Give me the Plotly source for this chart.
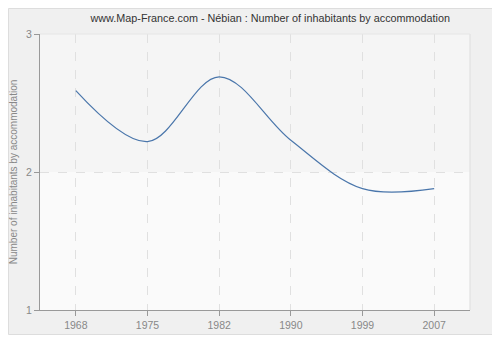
import plotly.graph_objects as go

years = ["1968", "1975", "1982", "1990", "1999", "2007"]
values = [2.59, 2.22, 2.69, 2.23, 1.88, 1.88]
y_ticks = [1, 2, 3]

title_text = "www.Map-France.com - Nébian : Number of inhabitants by accommodation"
y_title = "Number of inhabitants by accommodation"

# The page body adds an 8px margin, so the figure is sized to fit the window.
W, H = 492, 332
ML, MR, MT, MB = 32, 30, 26, 30
PW, PH = W - ML - MR, H - MT - MB


def px_x(fx):
    return (fx - ML) / PW


def px_y(fy):
    return (H - MB - fy) / PH


fig = go.Figure()
fig.add_trace(go.Scatter(
    x=years, y=values, mode="lines",
    line=dict(color="#4a76ab", width=1.2, shape="spline", smoothing=1.0),
    hoverinfo="skip", showlegend=False,
))

shapes = [
    # outer panel
    dict(type="rect", xref="paper", yref="paper",
         x0=px_x(0.5), x1=px_x(485.5), y0=px_y(326.5), y1=px_y(0.5),
         fillcolor="#f0f0f0", line=dict(color="#dddddd", width=1), layer="below"),
    # plot backgrounds
    dict(type="rect", xref="paper", yref="y", x0=0, x1=1, y0=2, y1=3,
         fillcolor="#f5f5f5", line=dict(width=0), layer="below"),
    dict(type="rect", xref="paper", yref="y", x0=0, x1=1, y0=1, y1=2,
         fillcolor="#fafafa", line=dict(width=0), layer="below"),
    # right/top light border
    dict(type="line", xref="paper", yref="paper", x0=1, x1=1, y0=0, y1=1,
         line=dict(color="#dddddd", width=1)),
    dict(type="line", xref="paper", yref="paper", x0=0, x1=1, y0=1, y1=1,
         line=dict(color="#e6e6e6", width=1)),
]

fig.update_layout(
    width=W, height=H,
    margin=dict(l=ML, r=MR, t=MT, b=MB, autoexpand=False),
    paper_bgcolor="white",
    plot_bgcolor="rgba(0,0,0,0)",
    font=dict(family="Liberation Sans, Arial, sans-serif", size=10, color="#888888"),
    title=dict(text=title_text, x=0.533, xanchor="center", y=0.97, yanchor="middle",
               font=dict(size=10.8, color="#333333")),
    shapes=shapes,
    xaxis=dict(
        type="category", range=[-0.5, 5.5], automargin=False,
        showline=True, linecolor="#999999", linewidth=1,
        ticks="outside", ticklen=5, tickcolor="#999999",
        showgrid=True, gridcolor="#e0e0e0", griddash="dash", gridwidth=1,
        zeroline=False, tickfont=dict(size=10.5, color="#888888"),
    ),
    yaxis=dict(
        range=[1, 3], tickvals=y_ticks, automargin=False,
        showline=True, linecolor="#999999", linewidth=1,
        ticks="outside", ticklen=5, tickcolor="#999999",
        showgrid=True, gridcolor="#e0e0e0", griddash="dash", gridwidth=1,
        zeroline=False, tickfont=dict(size=10.5, color="#888888"),
        title=dict(text=y_title, font=dict(size=10, color="#888888"), standoff=6),
    ),
)

fig.write_html("out.html")
